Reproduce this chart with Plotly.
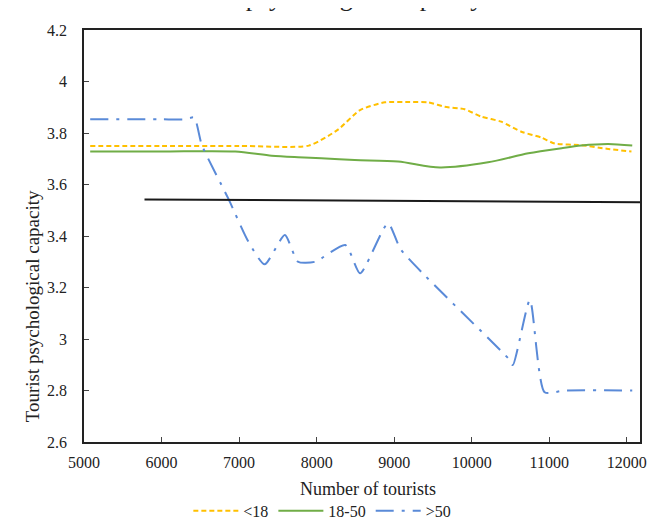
import plotly.graph_objects as go

# ---- data ----
x_lt18 = [5080, 6000, 7000, 7900, 8270, 8560, 8880, 9200, 9440, 9650, 9910, 10120, 10380, 10640, 10900, 11070, 11410, 11760, 12060]
y_lt18 = [3.75, 3.75, 3.75, 3.751, 3.812, 3.889, 3.919, 3.92, 3.919, 3.902, 3.892, 3.864, 3.844, 3.805, 3.782, 3.759, 3.753, 3.738, 3.728]

x_18_50 = [5080, 6000, 6950, 7420, 7760, 8060, 8490, 9050, 9590, 10210, 10730, 11160, 11410, 11760, 12070]
y_18_50 = [3.728, 3.728, 3.728, 3.712, 3.706, 3.702, 3.695, 3.689, 3.666, 3.686, 3.721, 3.741, 3.751, 3.757, 3.751]

x_gt50 = [5080, 6000, 6300, 6420, 6520, 6860, 7120, 7330, 7590, 7760, 7980, 8370, 8560, 8920, 9090, 10470, 10530, 10750, 10940, 11200, 12070]
y_gt50 = [3.853, 3.853, 3.853, 3.86, 3.753, 3.546, 3.378, 3.29, 3.404, 3.30, 3.30, 3.365, 3.255, 3.449, 3.346, 2.925, 2.899, 3.151, 2.793, 2.80, 2.80]

x_ref = [5780, 12170]
y_ref = [3.542, 3.531]

x_ticks = [5000, 6000, 7000, 8000, 9000, 10000, 11000, 12000]
x_ticklabels = ["5000", "6000", "7000", "8000", "9000", "10000", "11000", "12000"]
y_ticks = [2.6, 2.8, 3.0, 3.2, 3.4, 3.6, 3.8, 4.0, 4.2]
y_ticklabels = ["2.6", "2.8", "3", "3.2", "3.4", "3.6", "3.8", "4", "4.2"]

FONT = "Liberation Serif, Times New Roman, serif"

fig = go.Figure()
fig.add_trace(go.Scatter(x=x_lt18, y=y_lt18, name="<18", mode="lines",
                         line=dict(color="#FFC000", width=2, dash="5px,3px", shape="spline", smoothing=0.6)))
fig.add_trace(go.Scatter(x=x_18_50, y=y_18_50, name="18-50", mode="lines",
                         line=dict(color="#70AD47", width=2, shape="spline", smoothing=0.8)))
fig.add_trace(go.Scatter(x=x_gt50, y=y_gt50, name=">50", mode="lines",
                         line=dict(color="#5A8AD8", width=2, dash="18px,8px,3px,8px", shape="spline", smoothing=0.6)))
fig.add_trace(go.Scatter(x=x_ref, y=y_ref, mode="lines", showlegend=False,
                         line=dict(color="#1a1a1a", width=2)))

fig.update_layout(
    width=659, height=525, autosize=False,
    margin=dict(l=76, r=27, t=22, b=91, autoexpand=False),
    paper_bgcolor="white", plot_bgcolor="white",
    font=dict(family=FONT, size=16, color="#222"),
    showlegend=True,
    legend=dict(orientation="h", xref="container", yref="container",
                x=0.477, xanchor="center", y=0.042, yanchor="middle",
                font=dict(family=FONT, size=16, color="#222"), itemwidth=45,
                bgcolor="rgba(0,0,0,0)"),
    xaxis=dict(range=[5000, 12170], tickvals=x_ticks, ticktext=x_ticklabels, ticks="inside", ticklen=5,
               showline=True, linecolor="#222", linewidth=1.5, mirror=True, automargin=False,
               showgrid=False, zeroline=False, ticklabelstandoff=5,
               tickfont=dict(family=FONT, size=16, color="#222")),
    yaxis=dict(range=[2.6, 4.2], tickvals=y_ticks, ticktext=y_ticklabels, ticks="inside", ticklen=5,
               showline=True, linecolor="#222", linewidth=1.5, mirror=True, automargin=False,
               showgrid=False, zeroline=False, ticklabelstandoff=12,
               tickfont=dict(family=FONT, size=16, color="#222")),
    annotations=[
        dict(text="Number of tourists", xref="paper", yref="paper", x=0.511, y=-0.115,
             xanchor="center", yanchor="middle", showarrow=False,
             font=dict(family=FONT, size=18, color="#222")),
        dict(text="Tourist psychological capacity", xref="paper", yref="paper",
             x=-0.093, y=0.33, xanchor="center", yanchor="middle", textangle=-90,
             showarrow=False, font=dict(family=FONT, size=19, color="#222")),
        dict(text="Tourist psychological capacity", xref="paper", yref="paper",
             x=0.432, y=1.040, xanchor="center", yanchor="bottom", showarrow=False,
             font=dict(family=FONT, size=26, color="#222")),
    ],
)

fig.write_html("out.html")
